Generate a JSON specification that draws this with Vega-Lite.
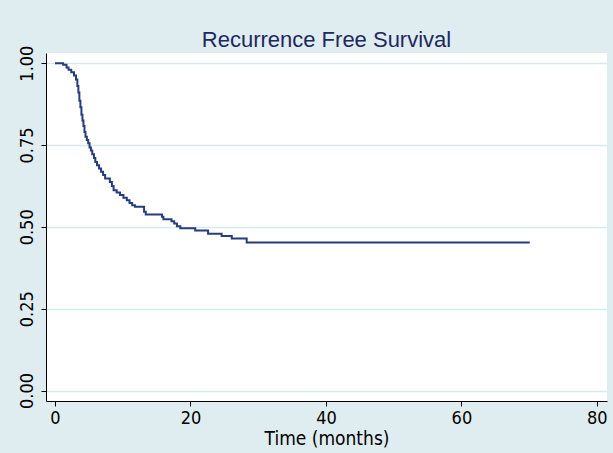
{
  "$schema": "https://vega.github.io/schema/vega-lite/v6.json",
  "width": 561,
  "height": 348,
  "autosize": {"type": "none"},
  "padding": {"left": 46, "top": 53, "right": 6, "bottom": 52},
  "background": "#e0edf0",
  "title": {
    "text": "Recurrence Free Survival",
    "font": "Liberation Sans, Arial, sans-serif",
    "fontSize": 22,
    "fontWeight": "normal",
    "color": "#1e2860",
    "anchor": "middle",
    "offset": -7
  },
  "config": {
    "view": {"fill": "white", "stroke": null},
    "axis": {
      "labelFont": "Liberation Sans Narrow, DejaVu Sans Condensed, sans-serif",
      "titleFont": "Liberation Sans Narrow, DejaVu Sans Condensed, sans-serif",
      "labelFontSize": 18,
      "titleFontSize": 19,
      "titleFontWeight": "normal",
      "labelColor": "#000000",
      "titleColor": "#000000",
      "domainColor": "#000000",
      "tickColor": "#000000",
      "domainWidth": 1,
      "tickWidth": 1,
      "tickSize": 5
    }
  },
  "data": {
    "values": [
      {"t": 0, "s": 1.0},
      {"t": 1.2, "s": 0.995},
      {"t": 1.7, "s": 0.987},
      {"t": 2.0, "s": 0.98},
      {"t": 2.4, "s": 0.972},
      {"t": 2.8, "s": 0.962},
      {"t": 3.1, "s": 0.95},
      {"t": 3.3, "s": 0.93},
      {"t": 3.45, "s": 0.91},
      {"t": 3.6, "s": 0.885},
      {"t": 3.75, "s": 0.865},
      {"t": 3.9, "s": 0.842},
      {"t": 4.05, "s": 0.825},
      {"t": 4.2, "s": 0.808},
      {"t": 4.35, "s": 0.79},
      {"t": 4.5, "s": 0.775},
      {"t": 4.7, "s": 0.765},
      {"t": 4.9, "s": 0.755},
      {"t": 5.1, "s": 0.742},
      {"t": 5.3, "s": 0.733},
      {"t": 5.5, "s": 0.722},
      {"t": 5.75, "s": 0.71},
      {"t": 5.95, "s": 0.698},
      {"t": 6.2, "s": 0.688},
      {"t": 6.5, "s": 0.678},
      {"t": 6.8, "s": 0.668},
      {"t": 7.1, "s": 0.658},
      {"t": 7.4, "s": 0.648},
      {"t": 8.1, "s": 0.637},
      {"t": 8.4, "s": 0.625},
      {"t": 8.65, "s": 0.612},
      {"t": 9.1, "s": 0.605},
      {"t": 9.6, "s": 0.597},
      {"t": 10.1, "s": 0.589},
      {"t": 10.6, "s": 0.581},
      {"t": 11.0, "s": 0.573},
      {"t": 11.4, "s": 0.566},
      {"t": 11.8, "s": 0.561},
      {"t": 13.15, "s": 0.546},
      {"t": 13.4, "s": 0.538},
      {"t": 15.8, "s": 0.531},
      {"t": 16.0, "s": 0.523},
      {"t": 17.2, "s": 0.517},
      {"t": 17.6, "s": 0.51},
      {"t": 18.0, "s": 0.502},
      {"t": 18.5, "s": 0.496},
      {"t": 20.7, "s": 0.489},
      {"t": 22.6, "s": 0.479},
      {"t": 24.6, "s": 0.472},
      {"t": 26.1, "s": 0.464},
      {"t": 28.3, "s": 0.452},
      {"t": 70.1, "s": 0.452}
    ]
  },
  "mark": {"type": "line", "interpolate": "step-after", "color": "#263c7c", "strokeWidth": 2},
  "encoding": {
    "x": {
      "field": "t",
      "type": "quantitative",
      "scale": {"domain": [-1.33, 81.5], "nice": false, "zero": false},
      "axis": {
        "values": [0, 20, 40, 60, 80],
        "grid": false,
        "title": "Time (months)",
        "titlePadding": 2,
        "labelPadding": 3,
        "labelFlush": false
      }
    },
    "y": {
      "field": "s",
      "type": "quantitative",
      "scale": {"domain": [-0.032, 1.031], "nice": false, "zero": false},
      "axis": {
        "values": [0, 0.25, 0.5, 0.75, 1],
        "format": ".2f",
        "title": null,
        "grid": true,
        "gridColor": "#d6eaee",
        "gridWidth": 1.5,
        "labelAngle": -90,
        "labelAlign": "center",
        "labelBaseline": "bottom",
        "labelPadding": 5,
        "labelFlush": false
      }
    }
  }
}
